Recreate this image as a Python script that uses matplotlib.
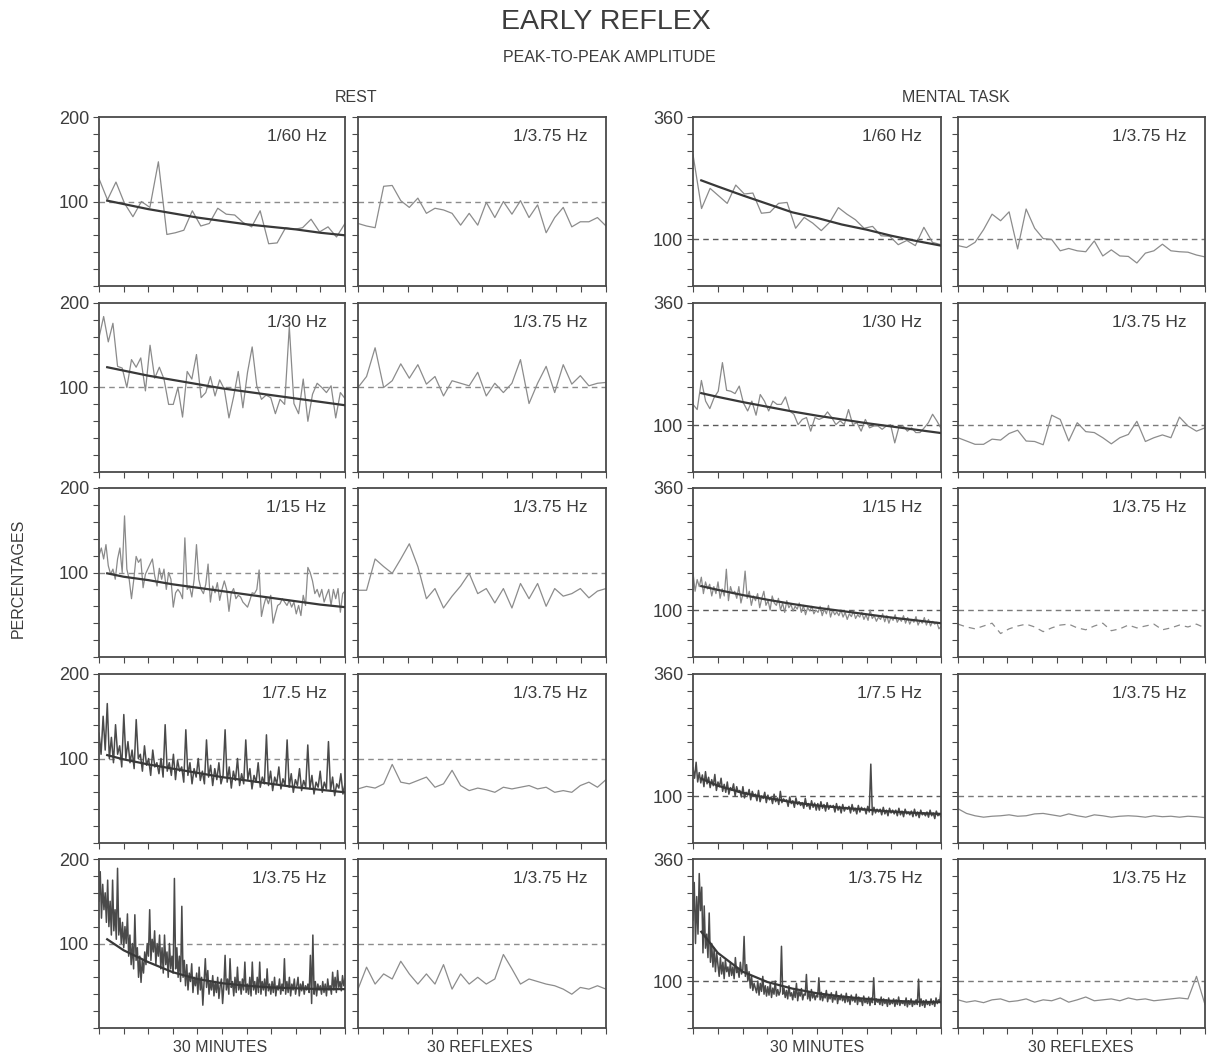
import numpy as np
import matplotlib.pyplot as plt

plt.rcParams['font.family'] = ['Liberation Sans', 'DejaVu Sans']

# ---------------- data (percentages) ----------------
freq_labels = ["1/60 Hz", "1/30 Hz", "1/15 Hz", "1/7.5 Hz", "1/3.75 Hz"]
reflex_label = "1/3.75 Hz"
fit_minutes = [1, 3, 6, 9, 12, 15, 18, 21, 24, 27, 30]

# REST, time course over 30 minutes
rest_60 = [127, 102, 123, 98, 82, 100, 93, 147, 61, 63, 66, 89, 71, 74, 92,
           85, 84, 75, 70, 89, 50, 51, 69, 67, 69, 79, 64, 70, 58, 74]
rest_30 = [159, 184, 154, 176, 125, 123, 100, 133, 124, 135, 96, 150, 111, 124,
           110, 80, 80, 100, 65, 119, 110, 139, 88, 94, 113, 90, 109, 98, 64,
           89, 119, 76, 118, 148, 102, 86, 91, 88, 69, 86, 80, 172, 81, 69,
           110, 60, 92, 105, 100, 94, 102, 64, 94, 87]
rest_15 = [120, 129, 116, 133, 108, 98, 104, 92, 116, 129, 100, 167, 104, 92,
           69, 92, 119, 112, 116, 82, 98, 104, 110, 116, 96, 84, 105, 92, 104,
           80, 100, 92, 59, 76, 80, 76, 69, 141, 80, 84, 71, 92, 133, 92, 80,
           75, 86, 110, 65, 84, 76, 88, 67, 80, 90, 80, 54, 76, 81, 69, 73, 71,
           65, 62, 59, 67, 76, 75, 80, 103, 48, 61, 71, 63, 73, 40, 51, 61, 63,
           69, 65, 61, 67, 59, 65, 51, 61, 49, 73, 61, 106, 100, 90, 75, 80, 71,
           80, 65, 73, 80, 61, 80, 69, 81, 53, 75, 78]
rest_7_5 = [130, 105, 150, 110, 165, 100, 125, 95, 140, 105,
            115, 90, 152, 100, 120, 95, 110, 88, 146, 100,
            105, 85, 115, 92, 100, 80, 110, 90, 95, 82,
            100, 78, 140, 85, 95, 80, 105, 75, 98, 85,
            90, 72, 134, 80, 95, 70, 88, 78, 100, 74,
            85, 70, 122, 78, 92, 68, 88, 75, 95, 70,
            80, 134, 72, 90, 65, 85, 74, 100, 68, 82,
            70, 122, 75, 88, 64, 80, 72, 95, 66, 78,
            70, 128, 68, 85, 62, 78, 70, 90, 64, 76,
            68, 122, 66, 82, 60, 75, 68, 88, 62, 74,
            66, 116, 64, 80, 58, 72, 66, 85, 60, 72,
            64, 120, 62, 78, 56, 70, 65, 82, 58, 70]
rest_3_75 = [150, 185, 130, 170, 140, 160, 125, 175, 120, 150,
             110, 175, 115, 140, 105, 189, 110, 130, 100, 125,
             95, 120, 100, 135, 85, 110, 75, 100, 70, 134,
             80, 95, 60, 85, 54, 80, 65, 90, 75, 100,
             85, 140, 80, 105, 90, 115, 75, 100, 85, 110,
             70, 95, 65, 110, 75, 90, 60, 100, 70, 85,
             65, 177, 70, 95, 60, 85, 55, 144, 60, 80,
             50, 75, 45, 65, 55, 76, 42, 60, 50, 65,
             40, 72, 45, 60, 27, 55, 82, 48, 68, 40,
             55, 45, 62, 38, 55, 42, 60, 35, 50, 58,
             29, 50, 86, 45, 58, 40, 82, 48, 55, 38,
             60, 42, 72, 45, 55, 40, 58, 45, 78, 42,
             52, 40, 60, 38, 78, 45, 55, 40, 60, 42,
             78, 40, 55, 45, 58, 38, 70, 44, 52, 40,
             55, 42, 60, 38, 50, 45, 58, 40, 52, 44,
             82, 40, 55, 42, 60, 38, 52, 45, 58, 40,
             50, 60, 38, 52, 44, 55, 40, 50, 45, 52,
             42, 86, 29, 110, 40, 55, 38, 52, 45, 50,
             40, 55, 42, 52, 38, 58, 45, 50, 40, 66,
             45, 60, 42, 68, 48, 55, 44, 62, 50, 58]

# fitted curves, read at the minutes in fit_minutes
rest_fits = [[101, 97, 91, 86, 81, 77, 73, 70, 67, 63, 60],
             [124, 120, 114, 109, 104, 99, 95, 91, 87, 83, 79],
             [99, 95, 91, 86, 82, 78, 74, 70, 66, 62, 59],
             [104, 99, 93, 88, 83, 78, 74, 70, 66, 63, 60],
             [105, 92, 78, 66, 58, 53, 50, 48, 47, 46, 46]]

# REST, 30 reflexes at 1/3.75 Hz
rest_refl_1 = [74, 71, 69, 118, 119, 101, 93, 104, 86, 92, 90, 86, 72, 86, 72,
               99, 81, 100, 85, 101, 81, 96, 63, 81, 93, 70, 76, 76, 81, 71]
rest_refl_2 = [100, 113, 147, 100, 108, 128, 111, 127, 104, 113, 90, 108, 105,
               102, 118, 90, 105, 94, 105, 133, 81, 105, 125, 94, 127, 104, 114,
               102, 105, 106]
rest_refl_3 = [79, 79, 116, 107, 99, 116, 134, 107, 69, 81, 58, 72, 84, 99, 75,
               81, 64, 81, 58, 87, 69, 87, 60, 81, 72, 75, 81, 70, 78, 81]
rest_refl_4 = [64, 67, 65, 70, 93, 72, 70, 74, 78, 66, 70, 86, 68, 62, 65, 63,
               60, 66, 64, 66, 68, 64, 66, 60, 62, 60, 68, 72, 66, 75]
rest_refl_5 = [46, 72, 52, 64, 58, 79, 64, 52, 64, 52, 75, 46, 64, 52, 60, 52,
               58, 87, 70, 52, 58, 55, 52, 50, 46, 40, 48, 46, 50, 46]

# MENTAL TASK, time course over 30 minutes
task_60 = [280, 165, 208, 192, 176, 215, 196, 198, 155, 157, 176, 178, 123,
           146, 134, 118, 136, 167, 153, 141, 123, 127, 107, 106, 88, 97, 86,
           125, 93, 88]
task_30 = [144, 133, 195, 151, 135, 158, 172, 233, 174, 172, 167, 183, 147,
           130, 151, 121, 165, 151, 130, 151, 144, 144, 160, 130, 123, 101,
           112, 116, 87, 116, 112, 116, 128, 116, 101, 109, 101, 133, 101, 105,
           87, 112, 94, 98, 98, 91, 98, 101, 62, 96, 98, 87, 94, 84, 84, 94,
           105, 123, 109, 93]
task_15 = [180, 140, 165, 150, 170, 135, 160, 145, 155, 130,
           150, 135, 160, 125, 145, 130, 187, 120, 150, 135,
           140, 125, 150, 115, 135, 183, 125, 140, 110, 130,
           120, 135, 105, 125, 140, 110, 120, 100, 130, 115,
           110, 125, 100, 115, 95, 120, 105, 112, 98, 108,
           102, 115, 95, 110, 90, 105, 98, 108, 92, 100,
           95, 108, 88, 102, 92, 110, 85, 100, 90, 96,
           88, 100, 85, 95, 80, 92, 86, 98, 82, 90,
           85, 95, 80, 90, 78, 100, 82, 88, 76, 85,
           80, 92, 75, 88, 72, 85, 78, 90, 74, 82,
           76, 88, 72, 84, 70, 80, 74, 86, 68, 78,
           72, 84, 68, 80, 66, 76, 70, 74, 60, 65]
task_7_5 = [160, 138, 172, 130, 150, 128, 145, 120, 152, 126,
            140, 118, 135, 122, 146, 112, 130, 120, 138, 110,
            125, 108, 130, 104, 118, 112, 126, 100, 120, 108,
            112, 98, 120, 96, 108, 102, 114, 92, 110, 100,
            104, 90, 112, 88, 100, 95, 108, 86, 102, 92,
            98, 84, 104, 88, 96, 82, 110, 86, 94, 90,
            92, 78, 98, 84, 90, 76, 96, 82, 88, 80,
            86, 74, 95, 78, 84, 72, 90, 76, 85, 70,
            84, 70, 88, 74, 82, 68, 86, 72, 80, 76,
            80, 66, 84, 70, 78, 64, 82, 68, 76, 72,
            78, 64, 82, 68, 74, 62, 80, 66, 76, 70,
            74, 62, 78, 66, 168, 60, 76, 64, 72, 66,
            72, 60, 76, 62, 70, 58, 74, 64, 70, 62,
            70, 58, 74, 60, 68, 56, 72, 62, 66, 60,
            68, 56, 72, 58, 66, 54, 70, 60, 64, 58,
            66, 55, 70, 58, 64, 52, 68, 58, 62, 56]
task_3_75 = [230, 310, 180, 280, 200, 329, 250, 300, 160, 260,
             170, 200, 150, 245, 140, 180, 130, 170, 120, 160,
             135, 110, 150, 115, 140, 105, 145, 120, 130, 110,
             140, 112, 130, 105, 150, 118, 125, 108, 140, 115,
             125, 195, 110, 135, 100, 120, 85, 110, 80, 95,
             85, 75, 100, 70, 95, 78, 110, 72, 90, 68,
             88, 70, 95, 65, 85, 72, 100, 68, 82, 70,
             78, 174, 72, 85, 65, 80, 62, 90, 68, 75,
             60, 80, 65, 95, 58, 78, 68, 84, 60, 72,
             70, 114, 62, 78, 58, 82, 64, 75, 60, 70,
             66, 107, 60, 76, 58, 72, 64, 80, 56, 70,
             62, 75, 55, 70, 60, 78, 52, 68, 60, 72,
             58, 68, 54, 74, 56, 66, 50, 70, 58, 64,
             55, 72, 50, 66, 56, 62, 48, 68, 54, 60,
             52, 66, 48, 64, 54, 107, 50, 62, 55, 58,
             50, 66, 48, 62, 52, 60, 46, 64, 50, 58,
             52, 62, 46, 60, 50, 66, 48, 58, 52, 56,
             48, 64, 45, 58, 50, 62, 46, 56, 50, 60,
             50, 104, 46, 62, 48, 58, 44, 60, 50, 56,
             48, 62, 50, 58, 46, 64, 52, 60, 55, 85]

task_fits = [[225, 212, 193, 175, 157, 145, 131, 120, 107, 96, 86],
             [168, 160, 149, 139, 129, 120, 112, 104, 97, 90, 83],
             [151, 143, 132, 122, 113, 105, 98, 91, 84, 78, 72],
             [137, 122, 107, 96, 87, 80, 75, 71, 67, 64, 62],
             [205, 160, 120, 98, 84, 74, 67, 62, 58, 56, 55]]

# MENTAL TASK, 30 reflexes at 1/3.75 Hz
task_refl_1 = [86, 82, 93, 120, 153, 139, 158, 79, 164, 123, 101, 99, 75, 80,
               75, 73, 96, 64, 77, 64, 63, 49, 70, 75, 89, 75, 73, 72, 66, 62]
task_refl_2 = [73, 66, 59, 59, 70, 68, 82, 89, 66, 65, 58, 121, 112, 66, 105,
               86, 84, 73, 60, 73, 80, 108, 65, 73, 79, 73, 117, 98, 87, 94]
task_refl_3 = [70, 64, 60, 66, 72, 50, 60, 66, 70, 64, 54, 62, 68, 70, 62, 58,
               66, 72, 56, 60, 68, 62, 66, 70, 58, 62, 68, 64, 70, 62]
task_refl_4 = [73, 63, 58, 55, 57, 58, 60, 57, 58, 62, 63, 60, 57, 62, 58, 55,
               60, 58, 55, 57, 58, 57, 55, 58, 56, 57, 55, 57, 56, 54]
task_refl_5 = [60, 55, 58, 54, 60, 62, 56, 58, 62, 55, 60, 58, 64, 55, 60, 66,
               58, 60, 62, 58, 64, 60, 62, 58, 60, 62, 64, 62, 110, 50]

rest_series = [rest_60, rest_30, rest_15, rest_7_5, rest_3_75]
task_series = [task_60, task_30, task_15, task_7_5, task_3_75]
rest_refl = [rest_refl_1, rest_refl_2, rest_refl_3, rest_refl_4, rest_refl_5]
task_refl = [task_refl_1, task_refl_2, task_refl_3, task_refl_4, task_refl_5]

# ---------------- layout ----------------
W, H = 1207, 1059
fig = plt.figure(figsize=(W / 100, H / 100), dpi=100)

col_left = [99, 358, 693, 958]
col_width = [246, 248, 248, 247]
row_top = [117, 303, 488, 674, 859]
panel_h = 169
ink = '#3c3c3c'
frame = '#4a4a4a'


def make_axes(col, row):
    l = col_left[col] / W
    b = 1 - (row_top[row] + panel_h) / H
    return fig.add_axes([l, b, col_width[col] / W, panel_h / H])


def style(ax, ymax, labelled):
    for s in ax.spines.values():
        s.set_color(frame)
        s.set_linewidth(1.3)
    ax.set_ylim(0, ymax)
    if ymax == 200:
        ticks = list(range(0, 201, 20))
        labels = [str(t) if t in (100, 200) else '' for t in ticks]
    else:
        ticks = sorted(list(range(0, 361, 36)) + [100])
        labels = [str(t) if t in (100, 360) else '' for t in ticks]
    ax.set_yticks(ticks)
    ax.set_yticklabels(labels if labelled else [''] * len(ticks))
    ax.tick_params(direction='out', length=4, width=0.8, colors=frame,
                   labelcolor=ink, labelsize=13, pad=3)
    ax.set_xticklabels([])


def draw_time(ax, vals, fit, ymax, label, dense, dash_col):
    x = np.linspace(0, 30, len(vals))
    ax.axhline(100, color=dash_col, lw=1.0, ls=(0, (4, 3)), zorder=1)
    if dense:
        ax.plot(x, vals, color='#4a4a4a', lw=1.1, zorder=2)
    else:
        ax.plot(x, vals, color='#8a8a8a', lw=0.9, zorder=2)
    ax.plot(fit_minutes, fit, color='#383838', lw=1.6, zorder=3)
    ax.set_xlim(0, 30)
    ax.set_xticks(np.linspace(0, 30, 11))
    style(ax, ymax, True)
    ax.text(0.925, 0.885, label, transform=ax.transAxes, ha='right',
            va='center', fontsize=12.5, color=ink)


def draw_reflex(ax, vals, ymax, dash_col, ls='-'):
    x = np.arange(1, len(vals) + 1)
    ax.axhline(100, color=dash_col, lw=1.0, ls=(0, (4, 3)), zorder=1)
    ax.plot(x, vals, color='#8c8c8c', lw=0.9, ls=ls, zorder=2)
    ax.set_xlim(1, len(vals))
    ax.set_xticks(np.linspace(1, len(vals), 11))
    style(ax, ymax, False)
    ax.text(0.925, 0.885, reflex_label, transform=ax.transAxes, ha='right',
            va='center', fontsize=12.5, color=ink)


for r in range(5):
    dense = r >= 3
    draw_time(make_axes(0, r), rest_series[r], rest_fits[r], 200,
              freq_labels[r], dense, '#8c8c8c')
    draw_reflex(make_axes(1, r), rest_refl[r], 200, '#8c8c8c')
    draw_time(make_axes(2, r), task_series[r], task_fits[r], 360,
              freq_labels[r], dense, '#5a5a5a')
    draw_reflex(make_axes(3, r), task_refl[r], 360, '#7a7a7a',
                ls=(0, (5, 4)) if r == 2 else '-')


def ftext(x, y, s, **kw):
    fig.text(x / W, 1 - y / H, s, ha='center', va='center', color=ink, **kw)


ftext(606, 22, "EARLY REFLEX", fontsize=20.5)
ftext(609, 57, "PEAK-TO-PEAK AMPLITUDE", fontsize=11.5)
ftext(356, 97, "REST", fontsize=11.5)
ftext(956, 97, "MENTAL TASK", fontsize=11.5)
ftext(18, 578, "PERCENTAGES", fontsize=11.5, rotation=90)
ftext(220, 1047, "30 MINUTES", fontsize=11.5)
ftext(480, 1047, "30 REFLEXES", fontsize=11.5)
ftext(817, 1047, "30 MINUTES", fontsize=11.5)
ftext(1081, 1047, "30 REFLEXES", fontsize=11.5)

fig.savefig('out.png', dpi=100)
